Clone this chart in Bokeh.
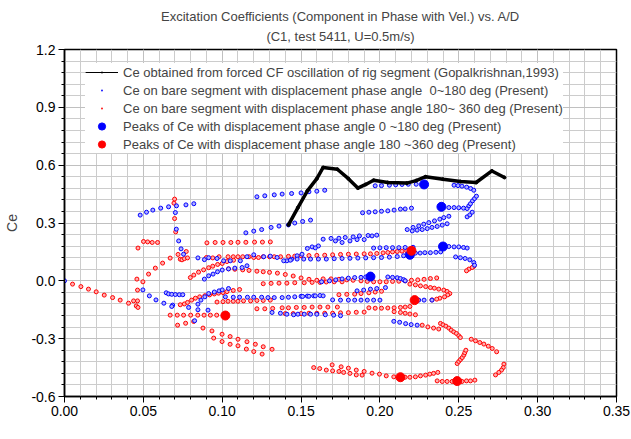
from bokeh.plotting import figure
from bokeh.models import (FixedTicker, NumeralTickFormatter, Legend, LegendItem,
                          Label, Title, ColumnDataSource)
from bokeh.embed import file_html
from bokeh.resources import INLINE

# ---------------- data ----------------
# Ce from forced CF oscillation (Gopalkrishnan, 1993)
gop_x = [0.142, 0.148, 0.154, 0.160, 0.164, 0.173, 0.180, 0.186, 0.191, 0.196,
         0.205, 0.217, 0.223, 0.229, 0.240, 0.251, 0.261, 0.271, 0.279]
gop_y = [0.290, 0.380, 0.467, 0.530, 0.588, 0.579, 0.530, 0.481, 0.500, 0.522,
         0.510, 0.507, 0.520, 0.540, 0.527, 0.515, 0.510, 0.570, 0.536]

# peaks
peak_blue_x = [0.228, 0.239, 0.240, 0.219, 0.194]
peak_blue_y = [0.500, 0.384, 0.178, 0.135, 0.022]
peak_red_x = [0.220, 0.222, 0.102, 0.213, 0.249]
peak_red_y = [0.156, -0.100, -0.180, -0.500, -0.520]

# Ce on bare segment, phase 0~180 deg (blue), by track
blue_arc = [(0.048, 0.341), (0.052, 0.356), (0.056, 0.367), (0.061, 0.377), (0.066, 0.384),
            (0.071, 0.389), (0.077, 0.394), (0.082, 0.400)]
blue_drop = [(0.0703, 0.354), (0.0709, 0.268), (0.0724, 0.207), (0.0739, 0.166), (0.0755, 0.138)]
blue_upper = [(0.122, 0.436), (0.127, 0.441), (0.133, 0.446), (0.138, 0.450), (0.144, 0.453),
              (0.150, 0.456), (0.155, 0.462), (0.160, 0.465), (0.165, 0.470)]
blue_slope = [(0.115, 0.249), (0.120, 0.258), (0.125, 0.266), (0.131, 0.277), (0.136, 0.284),
              (0.142, 0.290), (0.146, 0.300), (0.151, 0.308), (0.156, 0.315)]
blue_top = [(0.197, 0.493), (0.201, 0.494), (0.206, 0.496), (0.210, 0.498), (0.214, 0.500),
            (0.218, 0.501), (0.223, 0.501), (0.247, 0.496), (0.2495, 0.494), (0.252, 0.491),
            (0.255, 0.486), (0.2575, 0.479), (0.2595, 0.470)]
blue_r36 = [(0.189, 0.353), (0.193, 0.356), (0.197, 0.358), (0.201, 0.361), (0.205, 0.363),
            (0.209, 0.367), (0.213, 0.372), (0.216, 0.373), (0.220, 0.377),
            (0.2437, 0.380), (0.247, 0.380), (0.250, 0.379), (0.253, 0.377), (0.2553, 0.375),
            (0.2564, 0.389), (0.2574, 0.400), (0.2587, 0.415), (0.2600, 0.427), (0.2612, 0.439),
            (0.2553, 0.332), (0.2570, 0.342), (0.2585, 0.356)]
blue_slant1 = [(0.2173, 0.266), (0.221, 0.277), (0.2246, 0.285), (0.2278, 0.294), (0.231, 0.302),
               (0.2346, 0.311), (0.238, 0.320), (0.2405, 0.328), (0.2437, 0.335)]
blue_slant2 = [(0.2205, 0.259), (0.2236, 0.263), (0.2268, 0.266), (0.230, 0.271), (0.233, 0.277),
               (0.2363, 0.282), (0.2395, 0.289), (0.2426, 0.296)]
blue_mid = [(0.164, 0.216), (0.169, 0.220), (0.174, 0.221), (0.178, 0.225), (0.183, 0.228),
            (0.187, 0.233), (0.1925, 0.235), (0.195, 0.233), (0.198, 0.237),
            (0.1718, 0.207), (0.176, 0.199), (0.181, 0.207), (0.1855, 0.214), (0.190, 0.214)]
blue_rise = [(0.141, 0.104), (0.144, 0.112), (0.1475, 0.130), (0.1506, 0.138), (0.154, 0.168),
             (0.157, 0.176), (0.161, 0.181), (0.159, 0.171)]
blue_r12 = [(0.0846, 0.119), (0.0887, 0.110), (0.0914, 0.120), (0.0967, 0.116), (0.1009, 0.104),
            (0.1051, 0.104), (0.1115, 0.104), (0.1157, 0.125), (0.120, 0.135), (0.1263, 0.125),
            (0.1305, 0.128), (0.1348, 0.121), (0.139, 0.104), (0.1432, 0.107), (0.1475, 0.113),
            (0.1517, 0.113), (0.156, 0.113), (0.161, 0.113), (0.166, 0.113), (0.171, 0.115),
            (0.176, 0.116), (0.181, 0.117), (0.186, 0.118), (0.191, 0.119), (0.196, 0.120),
            (0.201, 0.121), (0.206, 0.123), (0.211, 0.126), (0.215, 0.130)]
blue_after = [(0.2225, 0.144), (0.2255, 0.144), (0.2285, 0.146), (0.232, 0.146), (0.2355, 0.148),
              (0.2385, 0.150)]
blue_r17 = [(0.196, 0.170), (0.200, 0.171), (0.204, 0.172), (0.208, 0.172), (0.212, 0.172),
            (0.216, 0.173), (0.221, 0.174), (0.2437, 0.178), (0.247, 0.176), (0.250, 0.176),
            (0.253, 0.173), (0.2553, 0.170)]
blue_tail = [(0.248, 0.124), (0.251, 0.120), (0.254, 0.116), (0.257, 0.109), (0.2595, 0.095),
             (0.260, 0.081)]
blue_low = [(0.0887, 0.009), (0.0914, 0.026), (0.0942, 0.035), (0.097, 0.047), (0.100, 0.056),
            (0.104, 0.062), (0.108, 0.066), (0.1126, 0.069), (0.1157, 0.078)]
blue_zero = [(0.163, -0.005), (0.168, 0.000), (0.172, 0.005), (0.176, 0.010), (0.180, 0.014),
             (0.184, 0.017), (0.188, 0.018), (0.191, 0.020), (0.205, 0.020), (0.208, 0.018),
             (0.211, 0.016), (0.213, 0.012), (0.215, 0.006), (0.216, 0.000)]
blue_m05 = [(0.150, -0.080), (0.154, -0.079), (0.158, -0.078), (0.162, -0.076), (0.1855, -0.052),
            (0.1897, -0.048), (0.194, -0.043), (0.198, -0.040), (0.2035, -0.035)]
blue_m08 = [(0.102, -0.083), (0.107, -0.085), (0.111, -0.085), (0.116, -0.085), (0.120, -0.085),
            (0.125, -0.085), (0.129, -0.087), (0.133, -0.087), (0.138, -0.087), (0.142, -0.085),
            (0.146, -0.083), (0.151, -0.081), (0.155, -0.080), (0.159, -0.078), (0.164, -0.078)]
blue_m10 = [(0.170, -0.099), (0.175, -0.100), (0.180, -0.100), (0.184, -0.100), (0.188, -0.100),
            (0.192, -0.100), (0.196, -0.100), (0.200, -0.100), (0.2246, -0.100), (0.228, -0.100),
            (0.233, -0.100)]
blue_m17 = [(0.1316, -0.164), (0.1369, -0.168), (0.141, -0.173), (0.1453, -0.176), (0.148, -0.173),
            (0.152, -0.173), (0.156, -0.173), (0.160, -0.173), (0.1654, -0.176), (0.1707, -0.178),
            (0.175, -0.181)]
blue_m22 = [(0.2088, -0.210), (0.2125, -0.215), (0.2163, -0.222), (0.2198, -0.227), (0.2236, -0.230)]
blue_left = [(0.000, 0.000), (0.0497, -0.047), (0.0538, -0.078), (0.058, -0.099), (0.063, -0.116),
             (0.0686, -0.126), (0.0787, -0.138), (0.0645, -0.062), (0.066, -0.068), (0.068, -0.070),
             (0.0703, -0.071), (0.0728, -0.072), (0.075, -0.072), (0.068, -0.133)]
blue_hook = [(0.0825, -0.207), (0.0846, -0.150), (0.0846, -0.121), (0.0865, -0.100), (0.089, -0.083),
             (0.091, -0.152), (0.0914, -0.066), (0.095, -0.058), (0.098, -0.052), (0.100, -0.047),
             (0.104, -0.040)]

# Ce on bare segment, phase 180~360 deg (red), by track
red_desc = [(0.0051, -0.017), (0.0104, -0.030), (0.0152, -0.043), (0.0201, -0.057), (0.0252, -0.074),
            (0.0305, -0.087), (0.0353, -0.100), (0.0406, -0.116), (0.0438, -0.104), (0.0463, -0.104),
            (0.0455, -0.130), (0.0466, -0.138)]
red_up = [(0.0463, -0.048), (0.0497, -0.005), (0.0459, 0.009), (0.0466, 0.170), (0.0501, 0.204),
          (0.0527, 0.202), (0.0556, 0.199), (0.059, 0.199)]
red_rise = [(0.0533, 0.035), (0.0576, 0.066), (0.0622, 0.092), (0.067, 0.118), (0.072, 0.137)]
red_07 = [(0.0698, 0.424), (0.0694, 0.403), (0.0698, 0.323), (0.0705, 0.254), (0.0734, 0.112),
          (0.0745, 0.109), (0.076, 0.115), (0.078, 0.119), (0.0772, 0.152)]
red_r20 = [(0.0903, 0.197), (0.0955, 0.199), (0.1005, 0.199), (0.1055, 0.199), (0.110, 0.200),
           (0.115, 0.200), (0.1205, 0.201), (0.1255, 0.201), (0.1305, 0.202)]
red_r12 = [(0.090, 0.121), (0.094, 0.119), (0.098, 0.125), (0.1037, 0.125), (0.107, 0.125),
           (0.110, 0.125), (0.113, 0.125), (0.117, 0.125), (0.120, 0.121), (0.123, 0.121),
           (0.126, 0.125), (0.130, 0.125), (0.133, 0.125), (0.137, 0.125), (0.142, 0.127),
           (0.146, 0.128), (0.150, 0.130), (0.155, 0.131), (0.160, 0.132), (0.165, 0.133),
           (0.170, 0.135), (0.175, 0.137), (0.180, 0.138), (0.185, 0.139), (0.190, 0.140),
           (0.194, 0.140), (0.198, 0.142), (0.202, 0.145), (0.205, 0.147), (0.208, 0.150),
           (0.211, 0.152), (0.214, 0.154), (0.217, 0.155)]
red_curve = [(0.0798, 0.017), (0.082, 0.030), (0.085, 0.045), (0.0882, 0.057), (0.0914, 0.068),
             (0.094, 0.076), (0.0971, 0.085), (0.100, 0.090), (0.103, 0.100), (0.1072, 0.107)]
red_r05 = [(0.104, 0.062), (0.108, 0.060), (0.113, 0.057), (0.117, 0.054), (0.122, 0.050),
           (0.126, 0.047), (0.130, 0.044), (0.135, 0.040), (0.140, 0.033), (0.145, 0.025),
           (0.150, 0.015), (0.155, 0.008), (0.160, 0.003)]
red_r0 = [(0.164, 0.010), (0.169, 0.010), (0.174, 0.008), (0.179, 0.005), (0.183, 0.003),
          (0.188, 0.000), (0.192, -0.003), (0.196, -0.005), (0.200, -0.005), (0.204, -0.005),
          (0.208, -0.003), (0.212, -0.002), (0.216, 0.000), (0.220, 0.003), (0.224, 0.005),
          (0.228, 0.008), (0.232, 0.012), (0.236, 0.015)]
red_m02 = [(0.126, -0.015), (0.131, -0.013), (0.136, -0.012), (0.141, -0.012), (0.146, -0.010),
           (0.152, -0.010), (0.157, -0.008), (0.162, -0.008), (0.166, -0.006), (0.171, -0.005),
           (0.176, -0.005)]
red_curl2 = [(0.219, -0.017), (0.2225, -0.021), (0.2257, -0.026), (0.229, -0.030), (0.232, -0.035),
             (0.2345, -0.038), (0.2373, -0.043), (0.2405, -0.048), (0.2426, -0.055), (0.2443, -0.066),
             (0.243, -0.073), (0.241, -0.083), (0.238, -0.090), (0.236, -0.095), (0.233, -0.099)]
red_m07 = [(0.174, -0.072), (0.179, -0.070), (0.184, -0.069), (0.188, -0.066), (0.193, -0.062),
           (0.197, -0.058), (0.201, -0.054)]
red_hook = [(0.0734, -0.124), (0.076, -0.120), (0.078, -0.112), (0.0806, -0.100), (0.083, -0.090),
            (0.0857, -0.083), (0.089, -0.077), (0.092, -0.073), (0.095, -0.068), (0.0977, -0.064),
            (0.1005, -0.061), (0.103, -0.056), (0.107, -0.050), (0.111, -0.045)]
red_m10 = [(0.0967, -0.110), (0.1005, -0.108), (0.1037, -0.106), (0.107, -0.106), (0.110, -0.106),
           (0.1135, -0.104), (0.118, -0.104), (0.122, -0.102), (0.126, -0.102), (0.1305, -0.100)]
red_m14 = [(0.122, -0.145), (0.127, -0.145), (0.132, -0.143), (0.138, -0.140), (0.142, -0.140),
           (0.147, -0.138), (0.152, -0.138), (0.157, -0.136), (0.162, -0.136), (0.167, -0.136),
           (0.173, -0.136), (0.193, -0.140), (0.197, -0.142), (0.201, -0.142), (0.205, -0.141),
           (0.209, -0.140), (0.213, -0.138), (0.216, -0.136), (0.219, -0.133)]
red_m17 = [(0.140, -0.170), (0.145, -0.170), (0.150, -0.170), (0.155, -0.168), (0.160, -0.168),
           (0.165, -0.168), (0.170, -0.168), (0.175, -0.166), (0.180, -0.165), (0.185, -0.163),
           (0.190, -0.162), (0.209, -0.160), (0.213, -0.164), (0.216, -0.168), (0.219, -0.172),
           (0.2225, -0.176)]
red_m18 = [(0.067, -0.178), (0.0715, -0.178), (0.0755, -0.178), (0.080, -0.178), (0.0845, -0.178),
           (0.0885, -0.178), (0.0925, -0.178), (0.0965, -0.178)]
red_fan1 = [(0.0717, -0.230), (0.0768, -0.220), (0.0819, -0.211), (0.0878, -0.245), (0.0935, -0.260),
            (0.0999, -0.277), (0.105, -0.289), (0.110, -0.303), (0.1157, -0.316), (0.121, -0.329),
            (0.126, -0.342), (0.1316, -0.355)]
red_fan2 = [(0.0946, -0.297), (0.0999, -0.315), (0.105, -0.329), (0.110, -0.337), (0.1153, -0.354),
            (0.120, -0.367), (0.1253, -0.380)]
red_bot1 = [(0.158, -0.450), (0.1618, -0.455), (0.166, -0.463), (0.1697, -0.436), (0.170, -0.467),
            (0.174, -0.470), (0.1754, -0.446), (0.177, -0.475), (0.180, -0.453), (0.181, -0.480),
            (0.185, -0.463), (0.185, -0.488), (0.1887, -0.489), (0.190, -0.470), (0.195, -0.479),
            (0.1997, -0.484), (0.204, -0.493), (0.2088, -0.498), (0.216, -0.500), (0.219, -0.500),
            (0.2225, -0.498), (0.2257, -0.493), (0.229, -0.489), (0.2316, -0.484), (0.234, -0.480),
            (0.2367, -0.475)]
red_bot2 = [(0.2363, -0.519), (0.2395, -0.522), (0.2426, -0.522), (0.2458, -0.522), (0.2521, -0.522),
            (0.2549, -0.519), (0.2574, -0.519), (0.2602, -0.515)]
red_curl_a = [(0.2490, -0.429), (0.2500, -0.418), (0.2511, -0.408), (0.2522, -0.398), (0.2532, -0.385),
              (0.2538, -0.373), (0.2545, -0.360)]
red_curl_b = [(0.2384, -0.221), (0.2400, -0.228), (0.2418, -0.235), (0.2437, -0.245), (0.2452, -0.256),
              (0.2468, -0.265), (0.2485, -0.273), (0.2500, -0.285), (0.2510, -0.294)]
red_curl_c = [(0.2579, -0.303), (0.2606, -0.311), (0.2633, -0.320), (0.2659, -0.328), (0.2687, -0.339),
              (0.2712, -0.351), (0.2740, -0.368)]
red_curl_d = [(0.2786, -0.432), (0.2782, -0.450), (0.2771, -0.463), (0.2754, -0.475), (0.2733, -0.488)]
red_m23 = [(0.2268, -0.230), (0.2304, -0.239), (0.234, -0.245), (0.2373, -0.250)]
red_tail = [(0.2595, 0.075), (0.2585, 0.069), (0.2564, 0.061), (0.2549, 0.052)]

blue_tracks = [blue_arc, blue_drop, blue_upper, blue_slope, blue_top, blue_r36, blue_slant1,
               blue_slant2, blue_mid, blue_rise, blue_r12, blue_after, blue_r17, blue_tail,
               blue_low, blue_zero, blue_m05, blue_m08, blue_m10, blue_m17, blue_m22,
               blue_left, blue_hook]
red_tracks = [red_desc, red_up, red_rise, red_07, red_r20, red_r12, red_curve, red_r05, red_r0,
              red_m02, red_curl2, red_m07, red_hook, red_m10, red_m14, red_m17, red_m18,
              red_fan1, red_fan2, red_bot1, red_bot2, red_curl_a, red_curl_b, red_curl_c,
              red_curl_d, red_m23, red_tail]

blue_x = [pt[0] for tr in blue_tracks for pt in tr]
blue_y = [pt[1] for tr in blue_tracks for pt in tr]
red_x = [pt[0] for tr in red_tracks for pt in tr]
red_y = [pt[1] for tr in red_tracks for pt in tr]

x_ticks = [0.0, 0.05, 0.10, 0.15, 0.20, 0.25, 0.30, 0.35]
y_ticks = [-0.6, -0.3, 0.0, 0.3, 0.6, 0.9, 1.2]
x_minor = [round(i * 0.01, 2) for i in range(36)]
y_minor = [round(-0.6 + i * 0.06, 2) for i in range(31)]

FONT = "Liberation Sans"

# ---------------- figure ----------------
p = figure(width=631, height=439, output_backend="svg", toolbar_location=None,
           x_range=(0, 0.35), y_range=(-0.6, 1.2),
           min_border_left=64, min_border_right=15, min_border_top=49, min_border_bottom=43)
p.title.visible = False
p.add_layout(Title(text="(C1, test 5411, U=0.5m/s)", align="center", text_font=FONT,
                   text_font_size="13px", text_font_style="normal", standoff=11), "above")
p.add_layout(Title(text="Excitation Coefficients (Component in Phase with Vel.) vs. A/D",
                   align="center", text_font=FONT, text_font_size="13px",
                   text_font_style="normal", standoff=-5), "above")

p.background_fill_color = "white"
p.outline_line_color = "black"
p.outline_line_width = 1.5

for ax, tk, mn, fmt in ((p.xaxis, x_ticks, x_minor, "0.00"), (p.yaxis, y_ticks, y_minor, "0.0")):
    ax.ticker = FixedTicker(ticks=tk, minor_ticks=mn)
    ax.formatter = NumeralTickFormatter(format=fmt)
    ax.major_label_text_font = FONT
    ax.major_label_text_font_size = "14px"
    ax.major_label_text_color = "black"
    ax.axis_line_color = "black"
    ax.axis_line_width = 1.5
    ax.major_tick_line_color = "black"
    ax.minor_tick_line_color = "black"
    ax.major_tick_out = 6
    ax.major_tick_in = 0
    ax.minor_tick_out = 3
    ax.minor_tick_in = 0
    ax.major_label_standoff = 3

p.yaxis.axis_label = "Ce"
p.yaxis.axis_label_text_font = FONT
p.yaxis.axis_label_text_font_size = "14px"
p.yaxis.axis_label_text_font_style = "normal"
p.yaxis.axis_label_standoff = 8

for g, tk, mn in ((p.xgrid, x_ticks, x_minor), (p.ygrid, y_ticks, y_minor)):
    g.ticker = FixedTicker(ticks=tk, minor_ticks=mn)
    g.grid_line_color = "#c0c0c0"
    g.grid_line_width = 1
    g.minor_grid_line_color = "#cccccc"
    g.minor_grid_line_width = 1

# marks
r_red = p.scatter(red_x, red_y, marker="circle", size=4, line_color="#ff0000",
                  fill_color="#ffb0b0", line_width=1)
r_blue = p.scatter(blue_x, blue_y, marker="circle", size=4, line_color="#0000ff",
                   fill_color="#b0b0ff", line_width=1)
p.line(gop_x, gop_y, line_color="black", line_width=3.5)
p.scatter(gop_x, gop_y, marker="circle", size=3, color="black")
r_pb = p.scatter(peak_blue_x, peak_blue_y, marker="circle", size=9, color="#0000ff")
r_pr = p.scatter(peak_red_x, peak_red_y, marker="circle", size=9, color="#ff0000")

# legend-only glyphs (not drawn in the frame: NaN data)
nan = float("nan")
hidden = ColumnDataSource(data=dict(x=[nan], y=[nan]))
lg_line = p.line("x", "y", source=hidden, line_color="black", line_width=1.2)
lg_dot = p.scatter("x", "y", source=hidden, marker="dot", size=8, line_color="black",
                   line_width=3)
lg_blue = p.scatter("x", "y", source=hidden, marker="dot", size=8, line_color="#0000ff",
                    line_width=3)
lg_red = p.scatter("x", "y", source=hidden, marker="dot", size=8, line_color="#ff0000",
                   line_width=3)

legend = Legend(items=[
    LegendItem(label="Ce obtained from forced CF oscillation of rig segment (Gopalkrishnan,1993)",
               renderers=[lg_line, lg_dot]),
    LegendItem(label="Ce on bare segment with displacement phase angle  0~180 deg (Present)",
               renderers=[lg_blue]),
    LegendItem(label="Ce on bare segment with displacement phase angle 180~ 360 deg (Present)",
               renderers=[lg_red]),
    LegendItem(label="Peaks of Ce with displacement phase angle 0 ~180 deg (Present)",
               renderers=[r_pb]),
    LegendItem(label="Peaks of Ce with displacement phase angle 180 ~360 deg (Present)",
               renderers=[r_pr]),
], location=(21, 243))
legend.label_text_font = FONT
legend.label_text_font_size = "13px"
legend.glyph_width = 33
legend.glyph_height = 18
legend.label_height = 17
legend.label_standoff = 5
legend.spacing = 0
legend.padding = 6
legend.margin = 0
legend.border_line_color = None
legend.background_fill_color = "white"
legend.background_fill_alpha = 1.0
p.add_layout(legend, "center")

# x axis label A/D with subscript
p.add_layout(Label(x=253, y=-34, x_units="screen", y_units="screen", text="A/D",
                   text_font=FONT, text_font_size="14px", text_baseline="alphabetic"))
p.add_layout(Label(x=280, y=-38, x_units="screen", y_units="screen", text="bare",
                   text_font=FONT, text_font_size="10px", text_baseline="alphabetic"))

open("out.html", "w").write(file_html(p, INLINE))
